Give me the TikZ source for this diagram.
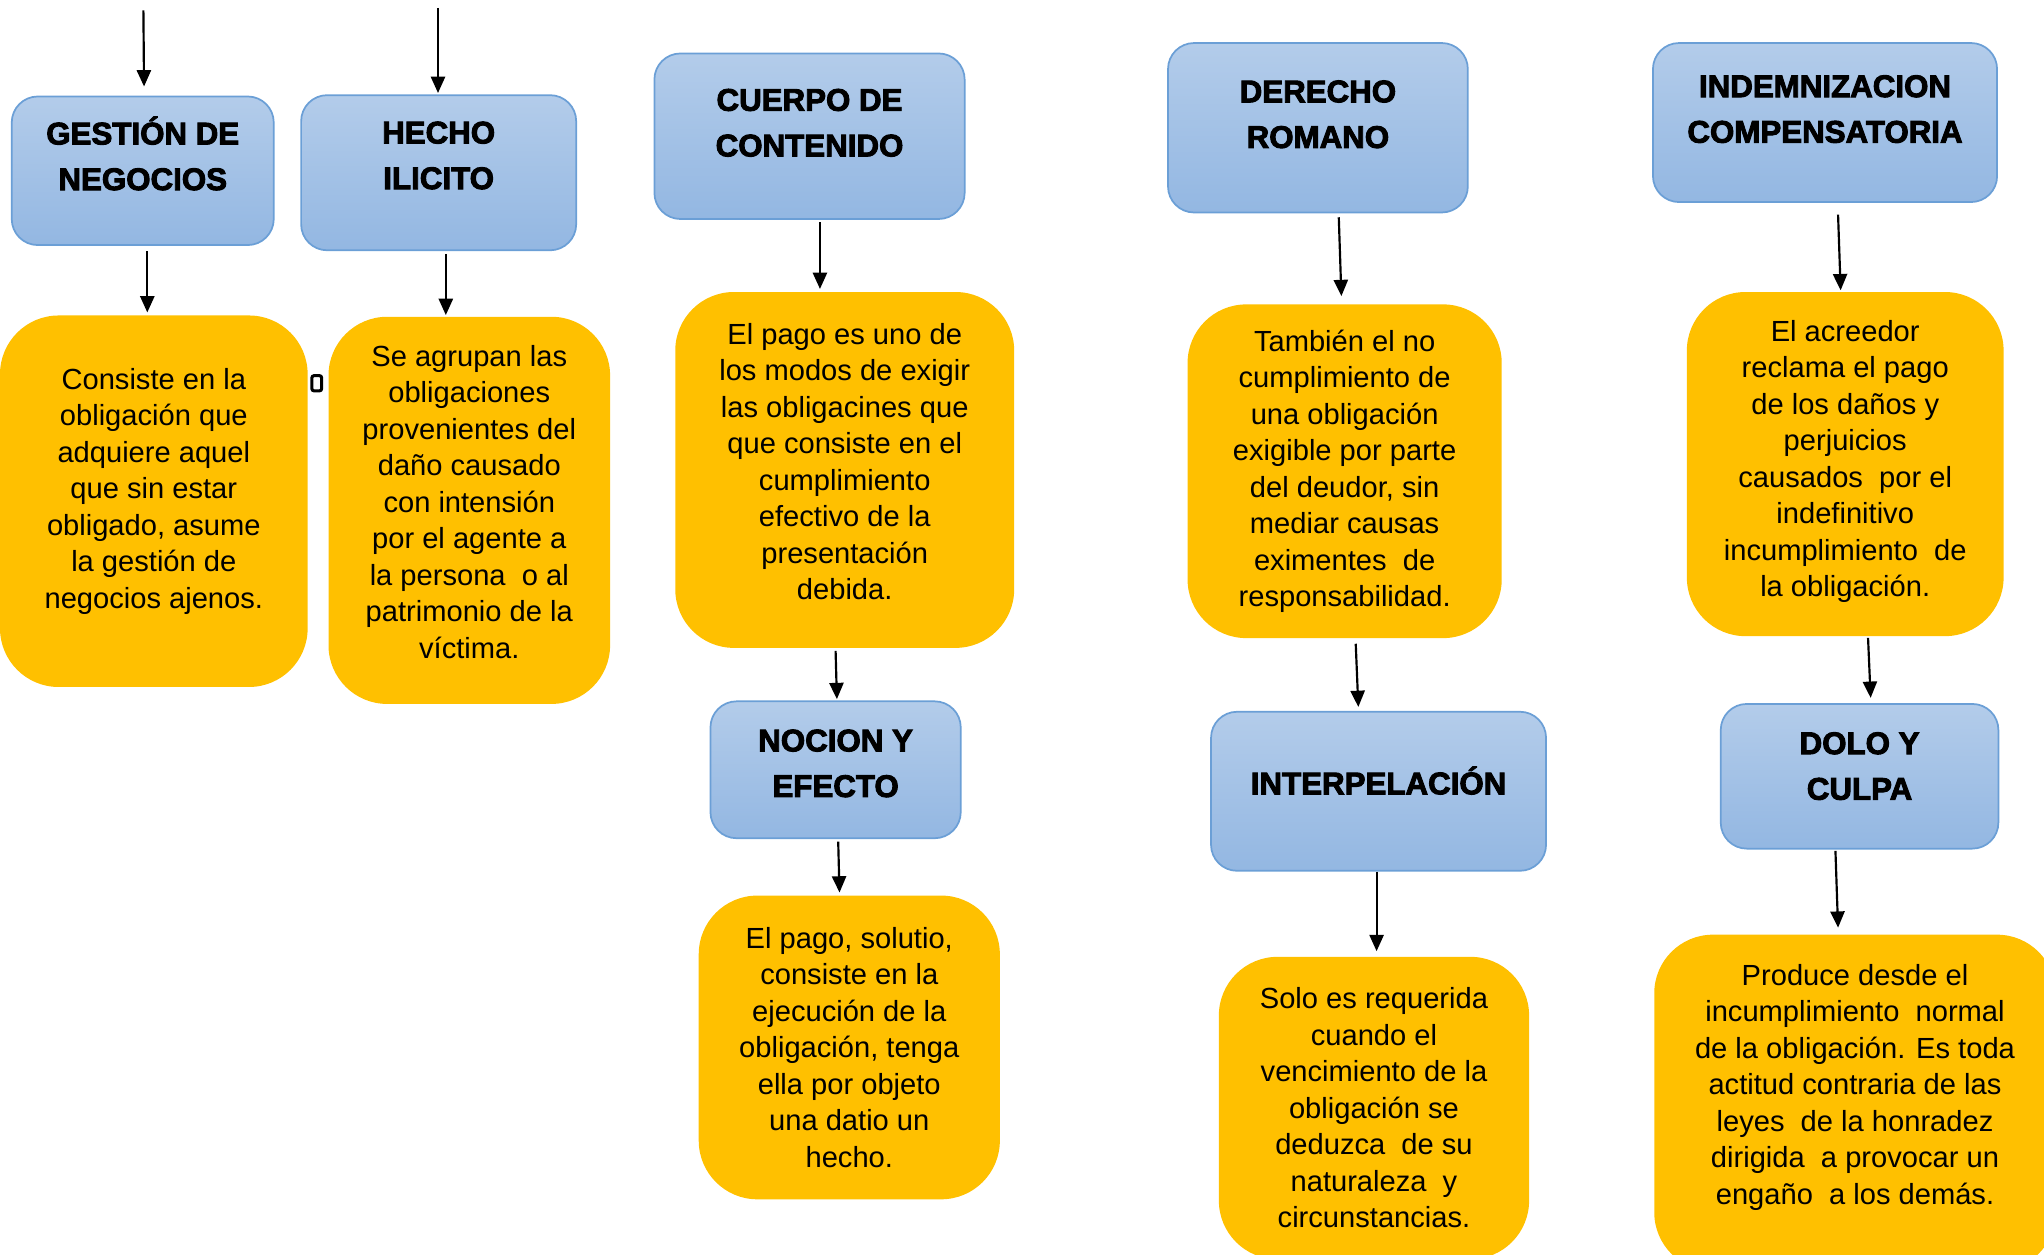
\documentclass[tikz,border=0pt]{standalone}
\usepackage{fontspec}
\setmainfont{Liberation Sans}
\newfontfamily\headfont{Liberation Sans}[FakeBold=3]
\usepackage{tikz}
\usetikzlibrary{arrows.meta}
\definecolor{blueTop}{HTML}{B3CCEA}
\definecolor{blueBot}{HTML}{93B7E2}
\definecolor{blueLine}{HTML}{6B9FD6}
\definecolor{amber}{HTML}{FFC000}

\begin{document}
\begin{tikzpicture}[x=0.6pt, y=-0.6pt,
        boxsize/.style 2 args={minimum width=#1*0.6pt, minimum height=#2*0.6pt},
        lift/.style={execute at end node={\rule[-#1]{0pt}{0pt}}},
        head/.style={draw=blueLine, line width=0.8pt, top color=blueTop, bottom color=blueBot,
            rounded corners=12pt, align=center, inner sep=0pt,
            font=\headfont\bfseries\fontsize{14.4}{21}\selectfont},
        note/.style={fill=amber, rounded corners=27pt, align=center, inner sep=0pt,
            font=\fontsize{13.4}{16.8}\selectfont},
        arr/.style={line width=1pt, -{Triangle[length=7.5pt,width=6.5pt]}}]
        \useasboundingbox (0, 0) rectangle (1568, 962);

        \node[head, boxsize={201}{114}, lift=16pt] (gestion) at (109.5, 131) {GESTIÓN DE\\NEGOCIOS};
        \node[head, boxsize={211}{119}, lift=16pt] (hecho) at (336.5, 132.5) {HECHO\\ILICITO};
        \node[head, boxsize={238}{127}, lift=12.5pt] (cuerpo) at (621, 104.5) {CUERPO DE\\CONTENIDO};
        \node[head, boxsize={230}{130}, lift=12.5pt] (derecho) at (1011, 98) {DERECHO\\ROMANO};
        \node[head, boxsize={264}{122}, lift=12.5pt] (indemn) at (1400, 94) {INDEMNIZACION\\COMPENSATORIA};
        \node[head, boxsize={192}{105}, lift=6pt] (nocion) at (641, 590.5) {NOCION Y\\EFECTO};
        \node[head, boxsize={257}{122}, lift=10pt] (interp) at (1057.5, 607) {INTERPELACIÓN};
        \node[head, boxsize={213}{111}, lift=9.5pt] (dolo) at (1426.5, 595.5) {DOLO Y\\CULPA};

        \node[note, boxsize={236}{285}, lift=12pt] (consiste) at (118, 384.5) {Consiste en la\\obligación que\\adquiere aquel\\que sin estar\\obligado, asume\\la gestión de\\negocios ajenos.};
        \node[note, boxsize={216}{297}, lift=8pt] (agrupan) at (360, 391.5) {Se agrupan las\\obligaciones\\provenientes del\\daño causado\\con intensión\\por el agente a\\la persona\ \ o al\\patrimonio de la\\víctima.};
        \node[note, boxsize={260}{273}, lift=8pt] (pagouno) at (648, 360.5) {El pago es uno de\\los modos de exigir\\las obligacines que\\que consiste en el\\cumplimiento\\efectivo de la\\presentación\\debida.};
        \node[note, boxsize={241}{256}] (tambien) at (1031.5, 361.5) {También el no\\cumplimiento de\\una obligación\\exigible por parte\\del deudor, sin\\mediar causas\\eximentes\ \ de\\responsabilidad.};
        \node[note, boxsize={243}{264}, lift=5pt] (acreedor) at (1415.5, 356) {El acreedor\\reclama el pago\\de los daños y\\perjuicios\\causados\ \ por el\\indefinitivo\\incumplimiento\ \ de\\la obligación.};
        \node[note, boxsize={231}{233}] (solutio) at (651.5, 803.5) {El pago, solutio,\\consiste en la\\ejecución de la\\obligación, tenga\\ella por objeto\\una datio un\\hecho.};
        \node[note, boxsize={238}{232}] (solo) at (1054, 850) {Solo es requerida\\cuando el\\vencimiento de la\\obligación se\\deduzca\ \ de su\\naturaleza\ \ y\\circunstancias.};
        \node[note, boxsize={308}{258}, lift=17pt] (produce) at (1423, 846) {Produce desde el\\incumplimiento\ \ normal\\de la obligación. Es toda\\actitud contraria de las\\leyes\ \ de la honradez\\dirigida\ \ a provocar un\\engaño\ \ a los demás.};

        \node[draw, line width=1.4pt, rounded corners=1pt, minimum width=4.5pt, minimum height=7pt, inner sep=0pt] (mark) at (243, 294) {};

        \coordinate (topa) at (110, 8);
        \coordinate (topb) at (336, 6);

        \draw[arr] (topa) -- ([shift={(1,-7)}]gestion.north);
        \draw[arr] (topb) -- ([shift={(-0.5,-1)}]hecho.north);
        \draw[arr] ([shift={(3.5,4)}]gestion.south) -- ([shift={(-5,-2)}]consiste.north);
        \draw[arr] ([shift={(5.5,2)}]hecho.south) -- ([shift={(-18,-1)}]agrupan.north);
        \draw[arr] ([shift={(8,2)}]cuerpo.south) -- ([shift={(-19,-2)}]pagouno.north);
        \draw[arr] ([shift={(16,3)}]derecho.south) -- ([shift={(-2.5,-6)}]tambien.north);
        \draw[arr] ([shift={(10,9)}]indemn.south) -- ([shift={(-3.5,-1)}]acreedor.north);
        \draw[arr] ([shift={(-7,2)}]pagouno.south) -- ([shift={(1,-1)}]nocion.north);
        \draw[arr] ([shift={(2,2)}]nocion.south) -- ([shift={(-7.5,-2)}]solutio.north);
        \draw[arr] ([shift={(8.5,4)}]tambien.south) -- ([shift={(-15.5,-3)}]interp.north);
        \draw[arr] ([shift={(-1.5,0)}]interp.south) -- ([shift={(2,-4)}]solo.north);
        \draw[arr] ([shift={(17.5,1)}]acreedor.south) -- ([shift={(8.5,-4)}]dolo.north);
        \draw[arr] ([shift={(-18.5,1)}]dolo.south) -- ([shift={(-13,-5)}]produce.north);
    \end{tikzpicture}
\end{document}
